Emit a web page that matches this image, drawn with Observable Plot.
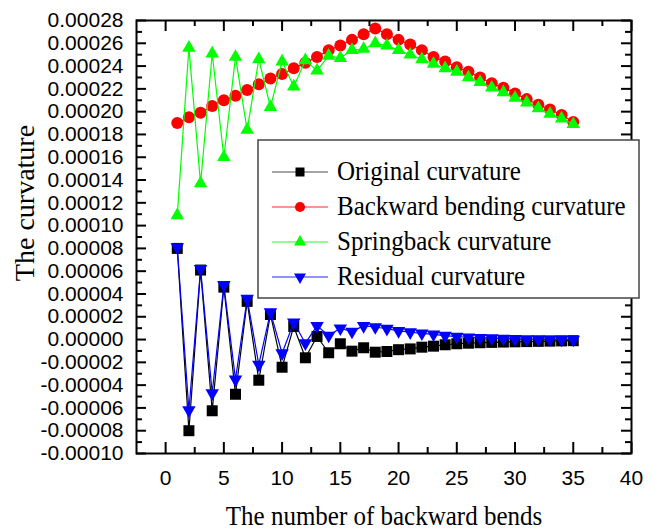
<!DOCTYPE html>
<html><head><meta charset="utf-8">
<script src="https://cdn.jsdelivr.net/npm/d3@7"></script>
<script src="https://cdn.jsdelivr.net/npm/@observablehq/plot@0.6"></script>
<style>body{margin:0;background:#fff}#chart{width:654px;height:532px}</style>
</head><body><div id="chart"></div>
<script>
const bends = [1,2,3,4,5,6,7,8,9,10,11,12,13,14,15,16,17,18,19,20,21,22,23,24,25,26,27,28,29,30,31,32,33,34,35];
const original = [0.000080,-0.000080,0.000061,-0.0000625,0.000046,-0.000048,0.0000335,-0.0000357,0.000022,-0.0000243,0.0000115,-0.000016,0.0000027,-0.0000116,-0.0000037,-0.0000102,-0.0000072,-0.0000111,-0.0000105,-0.0000089,-0.0000082,-0.0000067,-0.0000058,-0.0000046,-0.0000037,-0.0000032,-0.0000028,-0.0000025,-0.0000022,-0.000002,-0.0000018,-0.0000016,-0.0000014,-0.0000012,-0.000001];
const backward = [0.000190,0.000195,0.000199,0.000205,0.000210,0.000214,0.000219,0.000224,0.000229,0.000233,0.000238,0.000243,0.000248,0.000254,0.000258,0.000263,0.000268,0.000273,0.000268,0.000263,0.000259,0.000254,0.000248,0.000244,0.000239,0.000235,0.000230,0.000225,0.000221,0.000216,0.000211,0.000206,0.000202,0.000197,0.000191];
const springback = [0.000109,0.000256,0.000137,0.000251,0.000160,0.000248,0.000184,0.000246,0.000204,0.000244,0.000222,0.000245,0.000236,0.000249,0.000247,0.000254,0.000255,0.000260,0.000258,0.000254,0.000250,0.000246,0.000242,0.000238,0.000235,0.000230,0.000226,0.000221,0.000217,0.000212,0.000208,0.000203,0.000198,0.000194,0.000189];
const residual = [0.000081,-0.000062,0.000062,-0.000047,0.000048,-0.000035,0.000036,-0.000022,0.000024,-0.000012,0.000015,-0.0000032,0.000012,0.0000035,0.0000099,0.000007,0.000012,0.000011,0.0000095,0.0000076,0.0000064,0.0000055,0.0000046,0.0000035,0.0000026,0.000002,0.0000015,0.0000012,0.0000009,0.0000006,0.0000004,0.0000003,0.0000002,0.0000001,0.0];

const seriesNames = ["Original curvature","Backward bending curvature","Springback curvature","Residual curvature"];
const seriesColors = ["#000000","#ff0000","#00ff00","#0000ff"];
const seriesSymbols = ["square","circle","triangle","triangle"];
const seriesRotate = [0,0,0,180];
const seriesRadius = [6.2,6,5,5];

const xTicks = [0,5,10,15,20,25,30,35,40];
const xMinorTicks = [2.5,7.5,12.5,17.5,22.5,27.5,32.5,37.5];
const yTicks = [-0.0001,-0.00008,-0.00006,-0.00004,-0.00002,0,0.00002,0.00004,0.00006,0.00008,0.0001,0.00012,0.00014,0.00016,0.00018,0.0002,0.00022,0.00024,0.00026,0.00028];
const yMinorTicks = [-0.00009,-0.00007,-0.00005,-0.00003,-0.00001,0.00001,0.00003,0.00005,0.00007,0.00009,0.00011,0.00013,0.00015,0.00017,0.00019,0.00021,0.00023,0.00025,0.00027];
const xTitle = "The number of backward bends";
const yTitle = "The curvature";

const W = 654, H = 532, mL = 136, mR = 23, mT = 20, mB = 79;
const plotW = W - mL - mR, plotH = H - mT - mB;
const sans = "'Liberation Sans', Arial, sans-serif";
const serif = "'Liberation Serif', 'Times New Roman', serif";

const series = [original, backward, springback, residual];
const dataMarks = [];
series.forEach((vals, s) => {
  const data = vals.map((v, i) => ({x: bends[i], y: v}));
  dataMarks.push(Plot.line(data, {x: "x", y: "y", stroke: seriesColors[s], strokeWidth: 1.2}));
  dataMarks.push(Plot.dot(data, {x: "x", y: "y", symbol: seriesSymbols[s], r: seriesRadius[s], fill: seriesColors[s], stroke: "none", rotate: seriesRotate[s]}));
});

const tickStyle = {stroke: "black", strokeWidth: 2};
const plot = Plot.plot({
  width: W, height: H,
  marginLeft: mL, marginRight: mR, marginTop: mT, marginBottom: mB,
  style: {background: "#fff", fontFamily: sans, fontSize: "21px", overflow: "visible"},
  x: {domain: [-2.5, 40], label: null},
  y: {domain: [-0.0001, 0.00028], label: null},
  marks: [
    ...dataMarks,
    Plot.frame({stroke: "black", strokeWidth: 2}),
    Plot.tickY(yTicks, {y: d => d, insetRight: plotW - 10, ...tickStyle}),
    Plot.tickY(yTicks, {y: d => d, insetLeft: plotW - 10, ...tickStyle}),
    Plot.tickY(yMinorTicks, {y: d => d, insetRight: plotW - 6, ...tickStyle}),
    Plot.tickY(yMinorTicks, {y: d => d, insetLeft: plotW - 6, ...tickStyle}),
    Plot.tickX(xTicks, {x: d => d, insetTop: plotH - 11, ...tickStyle}),
    Plot.tickX(xTicks, {x: d => d, insetBottom: plotH - 11, ...tickStyle}),
    Plot.tickX(xMinorTicks, {x: d => d, insetTop: plotH - 6, ...tickStyle}),
    Plot.tickX(xMinorTicks, {x: d => d, insetBottom: plotH - 6, ...tickStyle}),
    Plot.axisX(xTicks, {tickSize: 0, tickPadding: 17, label: null, fontSize: 21, fontFamily: sans, tickFormat: d => String(d)}),
    Plot.axisY(yTicks, {tickSize: 0, tickPadding: 13, label: null, fontSize: 21, fontFamily: sans, tickFormat: d => d.toFixed(5)}),
    Plot.text([xTitle], {text: d => d, frameAnchor: "bottom", dy: 71.5, lineAnchor: "bottom", textAnchor: "middle", fontFamily: serif, fontSize: 25}),
    Plot.text([yTitle], {text: d => d, frameAnchor: "left", dx: -102.7, dy: -34, rotate: -90, lineAnchor: "bottom", textAnchor: "middle", fontFamily: serif, fontSize: 28})
  ]
});

const svg = d3.select(plot);
// vertical stretch of horizontal serif text, as in the reference
svg.selectAll("text").filter(function () { return this.textContent === xTitle; })
  .attr("transform", function () { return d3.select(this).attr("transform") + " scale(1,1.12)"; });

// legend
const box = {x: 258, y: 140, w: 381, h: 158};
const rowY0 = 172, rowStep = 35;
const lg = svg.append("g");
lg.append("rect").attr("x", box.x).attr("y", box.y).attr("width", box.w).attr("height", box.h)
  .attr("fill", "#fff").attr("stroke", "#444").attr("stroke-width", 1.5);
const symMap = {square: d3.symbolSquare, circle: d3.symbolCircle, triangle: d3.symbolTriangle};
const symSize = [81, 80, 62, 62];
seriesNames.forEach((name, s) => {
  const cy = rowY0 + s * rowStep;
  lg.append("line").attr("x1", 272).attr("x2", 328).attr("y1", cy).attr("y2", cy)
    .attr("stroke", seriesColors[s]).attr("stroke-width", 1).attr("stroke-opacity", s === 0 ? 0.7 : 0.85);
  lg.append("path").attr("d", d3.symbol(symMap[seriesSymbols[s]], symSize[s])())
    .attr("transform", `translate(300,${cy}) rotate(${seriesRotate[s]})`).attr("fill", seriesColors[s]);
  lg.append("text").attr("transform", `translate(337,${cy + 8}) scale(1,1.12)`)
    .attr("text-anchor", "start")
    .attr("font-family", serif).attr("font-size", 25).attr("fill", "#000").text(name);
});

document.getElementById("chart").appendChild(plot);
</script>
</body></html>
